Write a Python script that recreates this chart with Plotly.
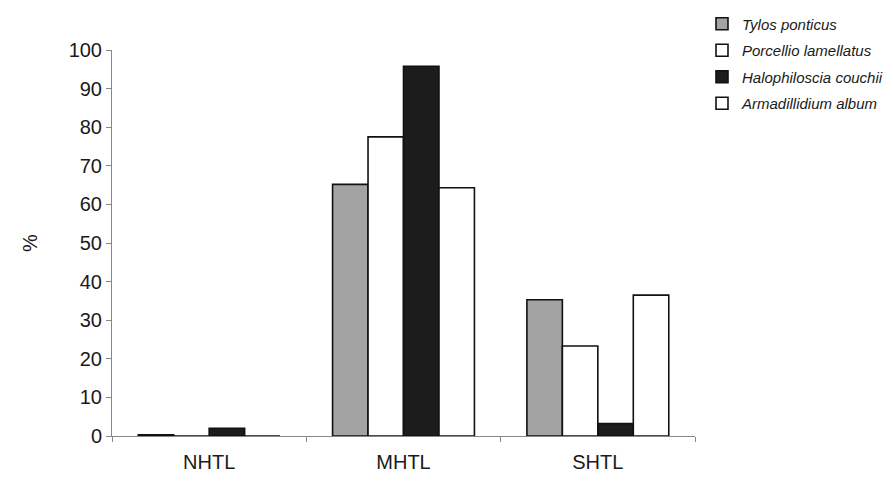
import plotly.graph_objects as go

categories = ["NHTL", "MHTL", "SHTL"]
species = ["Tylos ponticus", "Porcellio lamellatus", "Halophiloscia couchii", "Armadillidium album"]
tylos = [0.3, 65.2, 35.3]
porcellio = [0.0, 77.5, 23.3]
halophiloscia = [2.0, 95.8, 3.2]
armadillidium = [0.0, 64.3, 36.5]
y_ticks = [0, 10, 20, 30, 40, 50, 60, 70, 80, 90, 100]

series = [tylos, porcellio, halophiloscia, armadillidium]
fills = ["#a3a3a3", "#ffffff", "#1c1c1c", "#ffffff"]

fig = go.Figure()
for i, (name, vals, col) in enumerate(zip(species, series, fills)):
    fig.add_trace(go.Bar(
        x=categories, y=vals, name=name, legendgroup=f"g{i}",
        marker=dict(color=col, line=dict(color="#111111", width=1.6)),
    ))

font_family = "Arial, Liberation Sans, sans-serif"
# page body adds 8px margin; figure is sized to fit the 893x483 window
fig.update_layout(
    width=885, height=475,
    barmode="group", bargap=0.27, bargroupgap=0,
    plot_bgcolor="white", paper_bgcolor="white",
    margin=dict(l=104, r=198, t=42, b=47, autoexpand=False),
    font=dict(family=font_family, size=18, color="#1a1a1a"),
    legend=dict(
        x=1.012, y=1.11, xanchor="left", yanchor="top",
        font=dict(size=15, family=font_family, style="italic"),
        bgcolor="rgba(0,0,0,0)", tracegroupgap=4, itemwidth=30,
    ),
    showlegend=True,
)
fig.update_yaxes(
    range=[0, 100], tickvals=y_ticks, showgrid=False, zeroline=False,
    showline=True, linecolor="#888888", linewidth=1,
    ticks="outside", ticklen=5, tickcolor="#888888",
    tickfont=dict(size=20), title=dict(text="%", font=dict(size=20), standoff=25),
)
fig.update_xaxes(
    showgrid=False, showline=True, linecolor="#888888", linewidth=1,
    ticks="outside", ticklen=5, tickcolor="#888888", tickson="boundaries",
    tickfont=dict(size=20), ticklabelstandoff=8,
)
fig.write_html("out.html")
